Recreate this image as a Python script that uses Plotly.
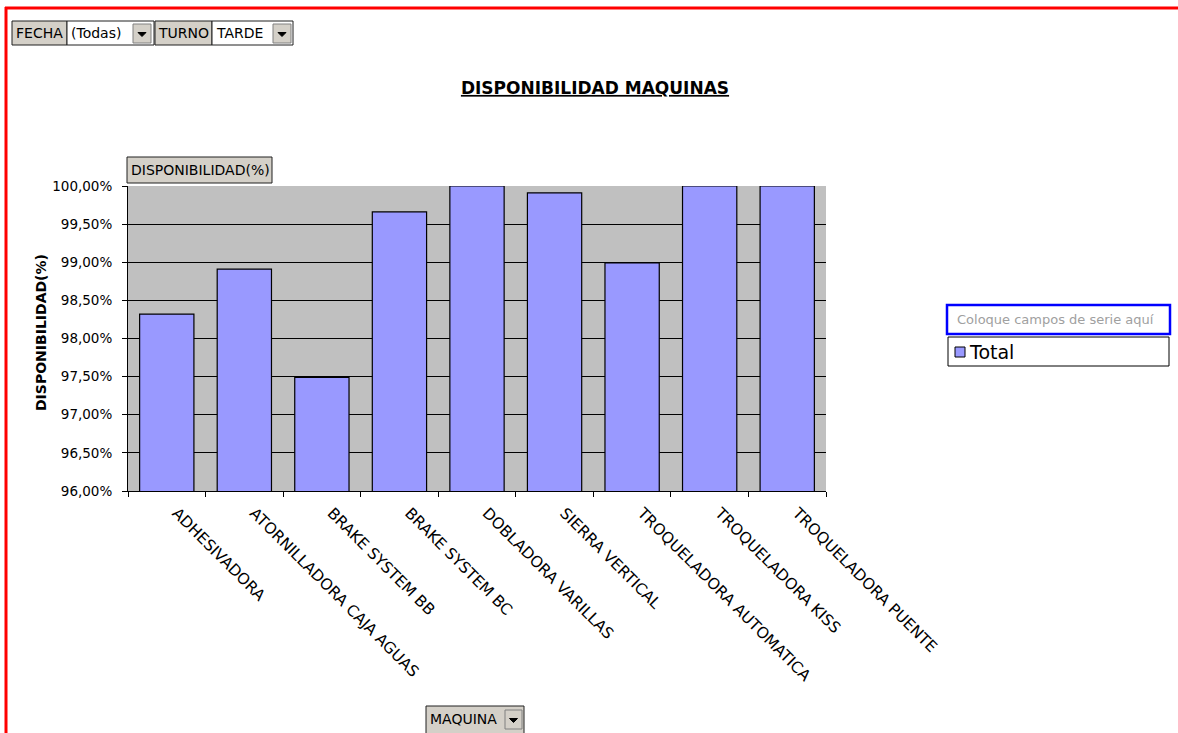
import plotly.graph_objects as go

# ---------------- data ----------------
maquinas = [
    "ADHESIVADORA",
    "ATORNILLADORA CAJA AGUAS",
    "BRAKE SYSTEM BB",
    "BRAKE SYSTEM BC",
    "DOBLADORA VARILLAS",
    "SIERRA VERTICAL",
    "TROQUELADORA AUTOMATICA",
    "TROQUELADORA KISS",
    "TROQUELADORA PUENTE",
]
disponibilidad = [98.32, 98.91, 97.49, 99.66, 100.00, 99.91, 98.99, 100.00, 100.00]
y_ticks = [96.0, 96.5, 97.0, 97.5, 98.0, 98.5, 99.0, 99.5, 100.0]
y_tick_labels = ["{:.2f}%".format(v).replace(".", ",") for v in y_ticks]

titulo = "DISPONIBILIDAD MAQUINAS"
eje_y = "DISPONIBILIDAD(%)"
serie = "Total"
filtros = [("FECHA", "(Todas)"), ("TURNO", "TARDE")]

# ---------------- layout geometry ----------------
W, H = 1178, 733
L, R, T, B = 128, 826, 186, 491
FONT = "DejaVu Sans"


def px(x):
    return (x - L) / (R - L)


def py(y):
    return (B - y) / (B - T)


fig = go.Figure(
    go.Bar(
        x=maquinas,
        y=disponibilidad,
        name=serie,
        showlegend=False,
        marker=dict(color="#9999FF", line=dict(color="black", width=1.2)),
    )
)

shapes = []
annotations = []


def rect(x0, y0, x1, y1, fill, line="#404040", lw=1):
    shapes.append(dict(type="rect", xref="paper", yref="paper",
                       x0=px(x0), x1=px(x1), y0=py(y0), y1=py(y1),
                       fillcolor=fill, line=dict(color=line, width=lw), layer="above"))


def text(x, y, s, size=14, color="black", xanchor="left", angle=0):
    annotations.append(dict(xref="paper", yref="paper", x=px(x), y=py(y), text=s,
                            showarrow=False, xanchor=xanchor, yanchor="middle",
                            textangle=angle,
                            font=dict(family=FONT, size=size, color=color)))


def arrow_button(x0, y0, x1, y1):
    rect(x0, y0, x1, y1, "#D4D0C8", "#808080", 1)
    cx = (x0 + x1) / 2
    cy = (y0 + y1) / 2 + 1
    path = "M {},{} L {},{} L {},{} Z".format(
        px(cx - 4), py(cy - 2), px(cx + 4), py(cy - 2), px(cx), py(cy + 2))
    shapes.append(dict(type="path", xref="paper", yref="paper", path=path,
                       fillcolor="black", line=dict(color="black", width=1), layer="above"))


# red frame
shapes.append(dict(type="line", xref="paper", yref="paper", x0=px(5), x1=px(1178),
                   y0=py(8), y1=py(8), line=dict(color="#FF0000", width=3), layer="above"))
shapes.append(dict(type="line", xref="paper", yref="paper", x0=px(6), x1=px(6),
                   y0=py(7), y1=py(733), line=dict(color="#FF0000", width=3), layer="above"))

# page-field buttons
rect(12, 21, 67, 45, "#D4D0C8", "#202020")
text(14, 33, filtros[0][0])
rect(67, 21, 154, 45, "white", "#202020")
text(69, 33, filtros[0][1])
arrow_button(133, 24, 151, 43)
rect(155, 21, 212, 45, "#D4D0C8", "#202020")
text(156, 33, filtros[1][0])
rect(212, 21, 293, 45, "white", "#202020")
text(214, 33, filtros[1][1])
arrow_button(273, 24, 291, 43)

# data field button
rect(127, 157, 272, 183, "#D4D0C8", "#202020")
text(129, 170, eje_y)

# category field button
rect(426, 706, 524, 734, "#D4D0C8", "#202020")
text(428, 719, "MAQUINA")
arrow_button(505, 710, 522, 729)

# y-axis title
text(41, 333, "<b>" + eje_y + "</b>", size=14, xanchor="center", angle=-90)

# series drop zone + legend
rect(947, 305, 1170, 334, "white", "#0000FF", 2.5)
text(955, 319, "Coloque campos de serie aquí", size=13, color="#A0A0A0")
rect(948, 337, 1169, 366, "white", "#000000", 1)
rect(955, 347, 965, 357, "#9999FF", "#000000", 1)
text(967, 352, serie, size=19)

fig.update_layout(
    width=W,
    height=H,
    margin=dict(l=L, r=W - R, t=T, b=H - B, pad=0),
    paper_bgcolor="white",
    plot_bgcolor="#C0C0C0",
    bargap=0.3,
    separators=",.",
    font=dict(family=FONT, color="black"),
    title=dict(text="<u><b>" + titulo + "</b></u>", x=595 / W, xanchor="center",
               y=1 - 88 / H, yanchor="middle", font=dict(family=FONT, size=17, color="black")),
    xaxis=dict(type="category", showline=True, linecolor="black", linewidth=1,
               ticks="outside", tickson="boundaries", ticklen=5, tickcolor="black",
               tickangle=45, tickfont=dict(family=FONT, size=15.5, color="black"),
               ticklabelshift=10, ticklabelstandoff=6,
               showgrid=False),
    yaxis=dict(range=[96, 100], tickvals=y_ticks, ticktext=y_tick_labels,
               showline=True, linecolor="black", linewidth=1, ticks="outside",
               ticklen=5, tickcolor="black", showgrid=True, gridcolor="black",
               gridwidth=1, zeroline=False, ticklabelstandoff=7,
               tickfont=dict(family=FONT, size=13.5, color="black")),
    shapes=shapes,
    annotations=annotations,
)

fig.write_html("out.html", config={"displayModeBar": False},
               post_script="document.body.style.margin='0';document.body.style.overflow='hidden';")
